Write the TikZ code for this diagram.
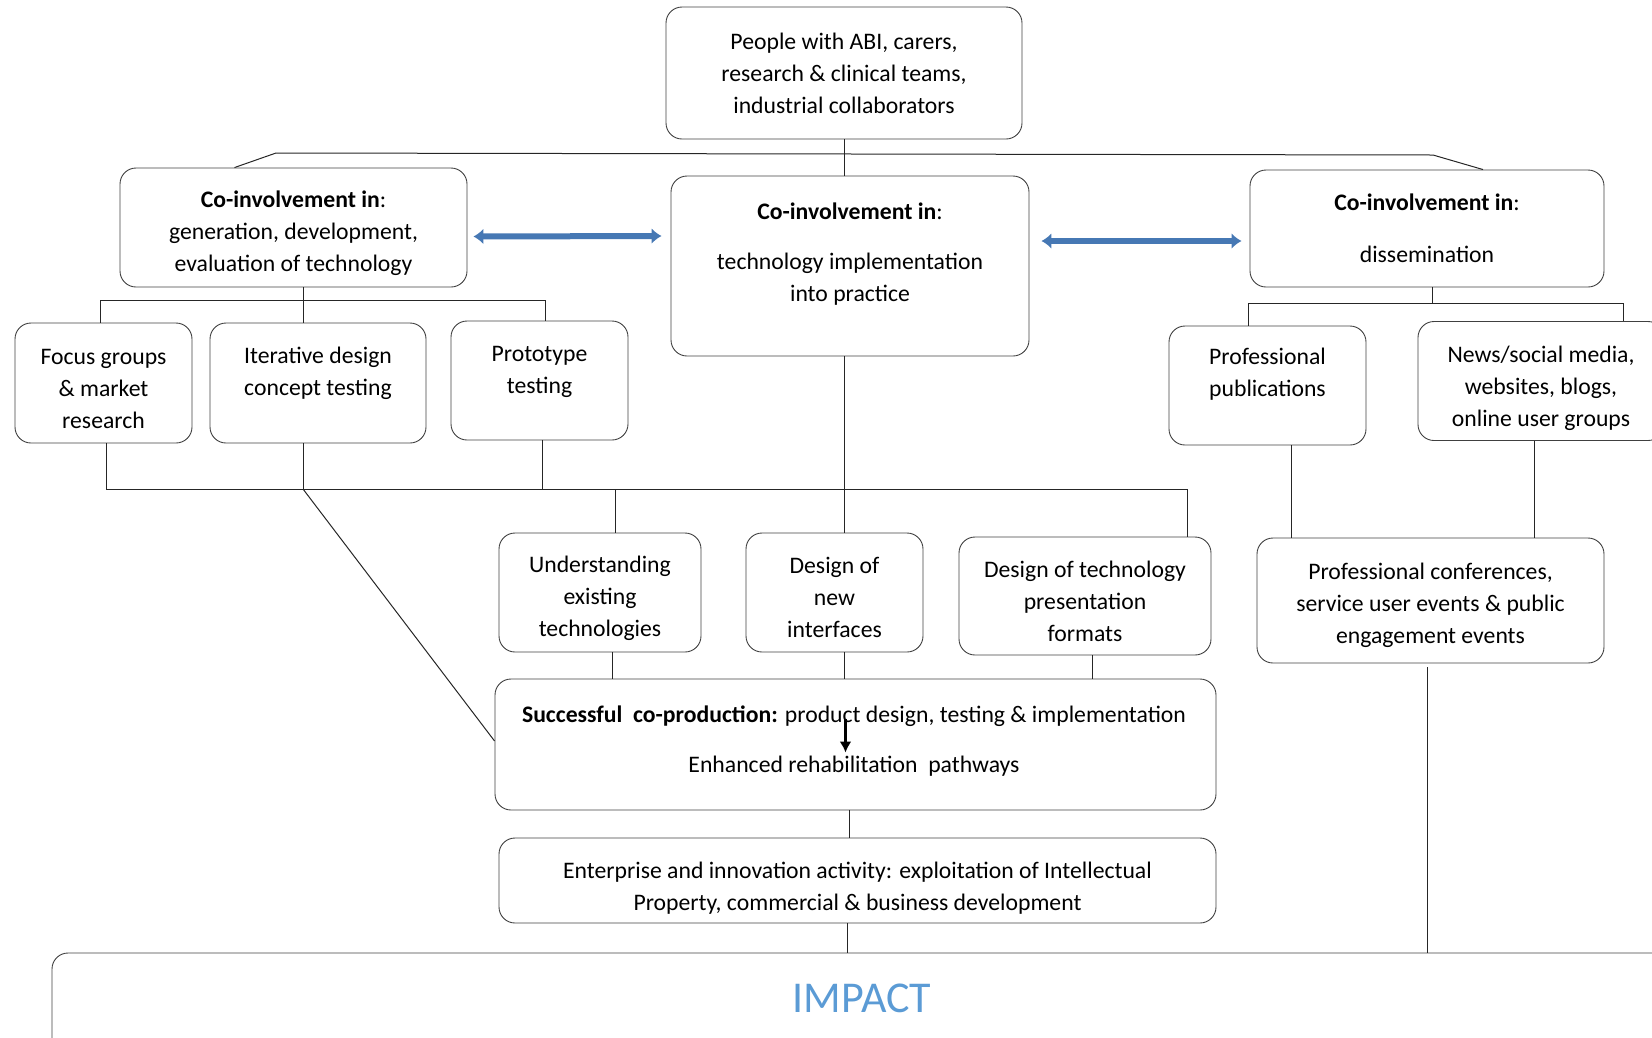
\documentclass[tikz,border=0pt]{standalone}
\usepackage{fontspec}
\setmainfont{Carlito}
\usetikzlibrary{arrows.meta, calc, positioning}
\definecolor{linkblue}{RGB}{70,120,180}
\definecolor{impactblue}{RGB}{91,155,213}
\newcommand{\uplift}[1]{\rule{0pt}{#1}}
\tikzset{
  box/.style={draw=black!75, line width=0.9pt, rounded corners=16pt, align=center, inner sep=0pt, font=\fontsize{23.7}{32}\selectfont},
  boxtext/.style={align=center, inner sep=0pt, font=\fontsize{23.7}{32}\selectfont},
  link/.style={draw=black!85, line width=1pt},
  biarrow/.style={{Latex[length=10pt,width=16pt]}-{Latex[length=10pt,width=16pt]}, linkblue, line width=6pt}
}

\begin{document}
\begin{tikzpicture}[x=1pt, y=-1pt]
    \useasboundingbox (0,0) rectangle (1652,1037);

    % Partners
    \node[box, minimum width=356pt, minimum height=132pt] (top) at (844,73) {People with ABI, carers,\\research \& clinical teams,\\industrial collaborators};

    % Co-involvement boxes
    \node[box, minimum width=347pt, minimum height=119pt] (gen) at (293.5,227.5) {\uplift{28pt}\textbf{Co-involvement in}:\\generation, development,\\evaluation of technology};
    \node[box, minimum width=358pt, minimum height=180pt] (impl) at (850,266) {};
    \node[boxtext] (impl-t) at (850,254) {\textbf{Co-involvement in}:\\[18pt]technology implementation\\into practice};
    \node[box, minimum width=354pt, minimum height=117pt] (diss) at (1427,228.5) {\textbf{Co-involvement in}:\\[19.5pt]dissemination};

    % Generation / development activities
    \node[box, minimum width=177pt, minimum height=120pt] (focus) at (103.5,383) {\uplift{28pt}Focus groups\\\& market\\research};
    \node[box, minimum width=216pt, minimum height=120pt] (iter) at (318,383) {};
    \node[boxtext] (iter-t) at (318,373) {Iterative design\\concept testing};
    \node[box, minimum width=177pt, minimum height=119pt] (proto) at (539.5,380.5) {};
    \node[boxtext] (proto-t) at (539.5,371.5) {Prototype\\testing};

    % Dissemination channels
    \node[box, minimum width=197pt, minimum height=119pt] (pubs) at (1267.5,385.5) {};
    \node[boxtext] (pubs-t) at (1267.5,374) {Professional\\publications};
    \node[box, minimum width=246pt, minimum height=119pt] (news) at (1541,381) {\uplift{32pt}News/social media,\\websites, blogs,\\online user groups};

    % Implementation activities
    \node[box, minimum width=202pt, minimum height=119pt] (underst) at (600,592.5) {\uplift{28pt}Understanding\\existing\\technologies};
    \node[box, minimum width=177pt, minimum height=119pt] (newint) at (834.5,592.5) {\uplift{27pt}Design of\\new\\interfaces};
    \node[box, minimum width=252pt, minimum height=118pt] (formats) at (1085,596) {\uplift{27pt}Design of technology\\presentation\\formats};
    \node[box, minimum width=347pt, minimum height=125pt] (confs) at (1430.5,600.5) {\uplift{26pt}Professional conferences,\\service user events \& public\\engagement events};

    % Outcomes
    \node[box, minimum width=721pt, minimum height=131pt] (coprod) at (855.5,744.5) {};
    \node[boxtext] (coprod-a) at (854,716) {\textbf{Successful\ \ co-production:} product design, testing \& implementation};
    \node[boxtext] (coprod-b) at (854,766) {Enhanced rehabilitation\ \ pathways};
    \draw[-{Latex[length=11pt,width=12pt]}, line width=3.5pt] ($(coprod.center)+(-10,-26)$) -- ($(coprod.center)+(-10,8)$);
    \node[box, minimum width=717pt, minimum height=85pt] (enterprise) at (857.5,880.5) {\uplift{32pt}Enterprise and innovation activity: exploitation of Intellectual\\Property, commercial \& business development};
    \node[box, minimum width=1648pt, minimum height=146pt] (impact) at (876,1026) {};
    \node[inner sep=0pt, font=\fontsize{44}{50}\selectfont, impactblue] (impact-t) at (862,998) {IMPACT};

    % Links between co-involvement boxes
    \draw[biarrow] ($(gen.east)+(6,9)$) -- ($(impl.west)+(-9,-30)$);
    \draw[biarrow] ($(impl.east)+(12,-25)$) -- ($(diss.west)+(-8,12.5)$);

    % Top bar
    \coordinate (barL) at (276,153);
    \coordinate (barR) at (1433,155);
    \draw[link] (top.south) -- (top.south |- impl.north);
    \draw[link] ($(gen.north)+(-59,0)$) -- (barL) -- (barR) -- ($(diss.north)+(56,0)$);

    % Generation branch
    \coordinate (genbar) at (303,300);
    \draw[link] (genbar |- gen.south) -- (genbar |- iter.north);
    \draw[link] ([xshift=-3.5pt]focus.north) |- (genbar);
    \draw[link] (genbar) -| ([xshift=5.5pt]proto.north);

    % Dissemination branch
    \coordinate (dissbar) at (1432,303);
    \draw[link] (dissbar |- diss.south) -- (dissbar);
    \draw[link] ([xshift=-19.5pt]pubs.north) |- (dissbar);
    \draw[link] (dissbar) -| ([xshift=82pt]news.north);

    % Lower bar
    \coordinate (lowbar) at (846,489);
    \coordinate (fmtin) at ($(formats.north)+(102,0)$);
    \coordinate (iterout) at ($(iter.south)+(-15,0)$);
    \coordinate (protoout) at ($(proto.south)+(2.5,0)$);
    \coordinate (undin) at ($(underst.north)+(15,0)$);
    \coordinate (implout) at ($(impl.south)+(-6,0)$);
    \draw[link] ([xshift=2.5pt]focus.south) |- (fmtin |- lowbar) -- (fmtin);
    \draw[link] (iterout) -- (iterout |- lowbar);
    \draw[link] (protoout) -- (protoout |- lowbar);
    \draw[link] (undin |- lowbar) -- (undin);
    \draw[link] (implout) -- (implout |- newint.north);
    \draw[link] (iterout |- lowbar) -- ($(coprod.west)+(0,-3.5)$);

    % Into co-production
    \foreach \n/\dx in {underst/12, newint/9.5, formats/7} {
        \path ($(\n.south)+(\dx,0)$) coordinate (tmp);
        \draw[link] (tmp) -- (tmp |- coprod.north);
    }

    % Towards impact
    \coordinate (cpout) at ($(coprod.south)+(-6.5,0)$);
    \coordinate (entout) at ($(enterprise.south)+(-10.5,0)$);
    \coordinate (confout) at ($(confs.south)+(-3.5,4)$);
    \coordinate (pubsout) at ($(pubs.south)+(23.5,0)$);
    \coordinate (newsout) at ($(news.south)+(-7,0)$);
    \draw[link] (cpout) -- (cpout |- enterprise.north);
    \draw[link] (entout) -- (entout |- impact.north);
    \draw[link] (confout) -- (confout |- impact.north);
    \draw[link] (pubsout) -- (pubsout |- confs.north);
    \draw[link] (newsout) -- (newsout |- confs.north);
\end{tikzpicture}
\end{document}
